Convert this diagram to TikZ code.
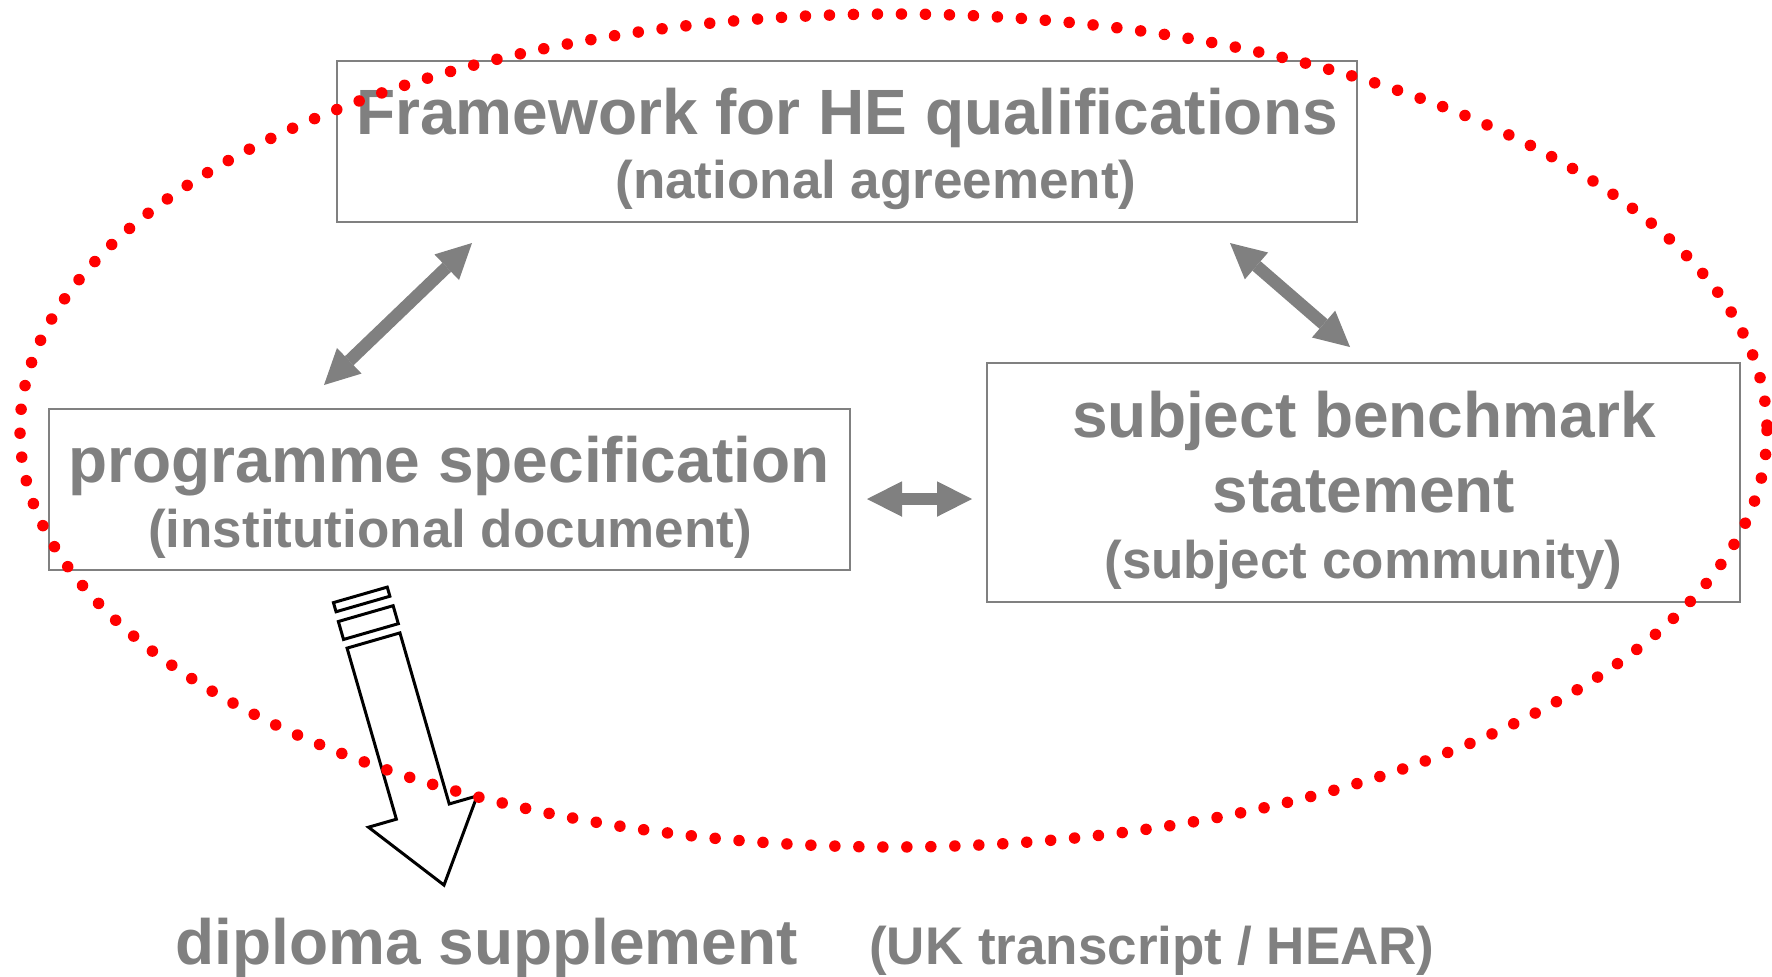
\documentclass[tikz,border=0pt]{standalone}
\usepackage{fontspec}
\setmainfont{Liberation Sans}
\usetikzlibrary{arrows.meta}
\begin{document}
\begin{tikzpicture}[x=0.5pt,y=-0.5pt,
  box/.style={draw=gray, line width=1pt, fill=white, inner sep=0pt, outer sep=0pt},
  big/.style={text=gray, font=\fontsize{32pt}{38pt}\selectfont\bfseries, anchor=base, inner sep=0pt},
  small/.style={text=gray, font=\fontsize{26.5pt}{32pt}\selectfont\bfseries, anchor=base, inner sep=0pt},
  dbl/.style={draw=gray, line width=6.25pt,
    {Triangle[length=17.5pt,width=17.75pt,line width=0pt]}-{Triangle[length=17.5pt,width=17.75pt,line width=0pt]}},
  block/.style={draw=black, line width=1.5pt, fill=white, line join=miter},
  dots/.style={draw=red, line width=5.75pt, line cap=round, dash pattern=on 0pt off 12pt}
]
\useasboundingbox (0,0) rectangle (1772,976);

% boxes
\node[box, minimum width=510pt, minimum height=80.5pt] (fw) at (847,141.5) {};
\node[box, minimum width=400.5pt, minimum height=80.5pt] (ps) at (449.5,489.5) {};
\node[box, minimum width=376.5pt, minimum height=119.5pt] (sb) at (1363.5,482.5) {};

% texts
\node[big] (t1) at (847,134) {Framework for HE qualifications};
\node[small] (t2) at (876,198) {(national agreement)};
\node[big] (t3) at (449,482) {programme specification};
\node[small] (t4) at (450,547) {(institutional document)};
\node[big] (t5) at (1364,437) {subject benchmark};
\node[big] (t6) at (1364,512) {statement};
\node[small] (t7) at (1363.5,578) {(subject community)};
\node[big] (t8) at (486.5,964) {diploma supplement};
\node[small] (t9) at (1152,964) {(UK transcript / HEAR)};

% double arrows
\coordinate (a1s) at (324,385);
\coordinate (a1e) at (472,243);
\coordinate (a2s) at (1230,243);
\coordinate (a2e) at (1350,347);
\coordinate (a3s) at (867,499);
\coordinate (a3e) at (972,499);
\draw[dbl] (a1s) -- (a1e);
\draw[dbl] (a2s) -- (a2e);
\draw[dbl] (a3s) -- (a3e);

% block arrow towards diploma supplement
\begin{scope}[shift={(373.5,640.5)}, x={(0.1385pt,-0.4805pt)}, y={(-0.4805pt,-0.1385pt)}]
  \draw[block] (0,27.5) -- (178,27.5) -- (178,56.5) -- (254.5,0) -- (178,-56.5)
     -- (178,-27.5) -- (0,-27.5) -- cycle;
  \draw[block] (-28,28.5) -- (-28,-28.5) -- (-9.3,-28.5) -- (-9.3,28.5) -- cycle;
  \draw[block] (-47.5,28) -- (-47.5,-28) -- (-38,-28) -- (-38,28) -- cycle;
\end{scope}

% red dotted ellipse
\draw[dots] (893.5,430.5) ellipse [x radius=873.5, y radius=416.5];
\end{tikzpicture}
\end{document}
